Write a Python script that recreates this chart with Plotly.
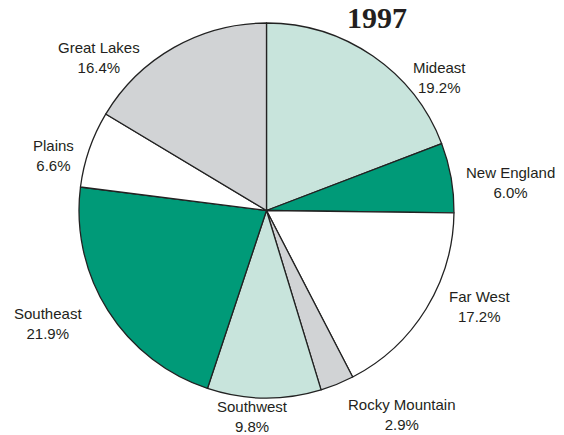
import plotly.graph_objects as go

regions = ["Mideast", "New England", "Far West", "Rocky Mountain",
           "Southwest", "Southeast", "Plains", "Great Lakes"]
shares = [19.2, 6.0, 17.2, 2.9, 9.8, 21.9, 6.6, 16.4]
slice_colors = ["#c8e4dc", "#009a78", "#ffffff", "#d1d3d5",
                "#c8e4dc", "#009a78", "#ffffff", "#d1d3d5"]
title_text = "1997"

# label block centres in pixels (x, y from top)
label_pos = {
    "Mideast": (439, 77),
    "New England": (510, 183),
    "Far West": (479, 306),
    "Rocky Mountain": (402, 414),
    "Southwest": (252, 416),
    "Southeast": (48, 323),
    "Plains": (53, 155),
    "Great Lakes": (99, 57),
}

W, H = 564, 435

fig = go.Figure(go.Pie(
    labels=regions,
    values=shares,
    sort=False,
    direction="clockwise",
    rotation=0,
    marker=dict(colors=slice_colors, line=dict(color="#222222", width=1.3)),
    textinfo="none",
    hoverinfo="label+percent",
    domain=dict(x=[79 / W, 454 / W], y=[(H - 398) / H, (H - 23) / H]),
    showlegend=False,
))

annotations = []
for name, val in zip(regions, shares):
    px, py = label_pos[name]
    annotations.append(dict(
        x=px / W, y=1 - py / H, xref="paper", yref="paper",
        xanchor="center", yanchor="middle", showarrow=False,
        text=f"{name}<br>{val:.1f}%", align="center",
        font=dict(family="Liberation Sans, Arial, sans-serif", size=15, color="#231f20"),
    ))
annotations.append(dict(
    x=377 / W, y=1 - 18 / H, xref="paper", yref="paper",
    xanchor="center", yanchor="middle", showarrow=False,
    text=f"<b>{title_text}</b>",
    font=dict(family="Liberation Serif, Times New Roman, serif", size=30, color="#231f20"),
))

fig.update_layout(
    width=W, height=H,
    margin=dict(l=0, r=0, t=0, b=0),
    paper_bgcolor="white", plot_bgcolor="white",
    annotations=annotations,
)

fig.write_html(
    "out.html",
    config={"displayModeBar": False},
    post_script="document.body.style.margin='0';document.body.style.overflow='hidden';",
)
